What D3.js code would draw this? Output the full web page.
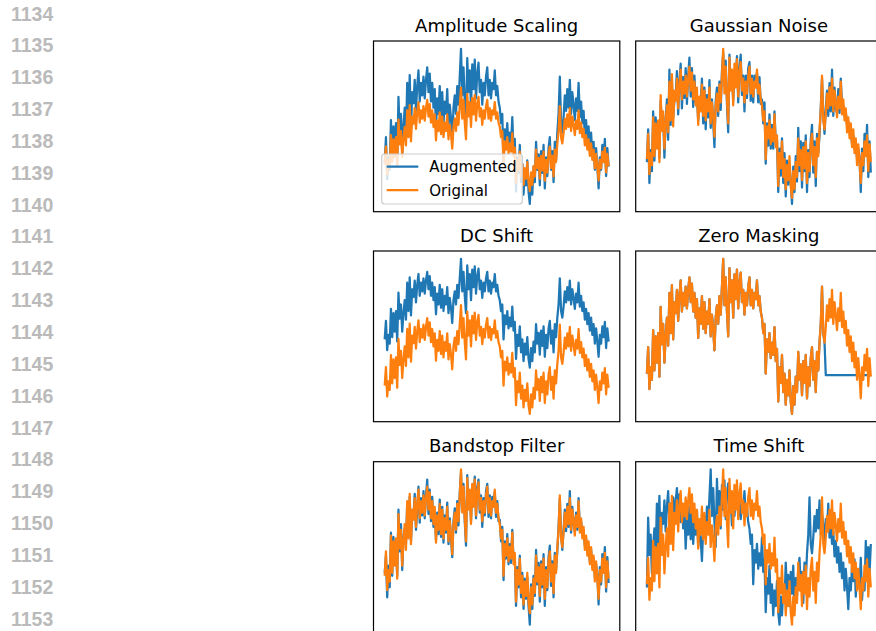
<!DOCTYPE html>
<html>
<head>
<meta charset="utf-8">
<script src="https://cdn.jsdelivr.net/npm/d3@7"></script>
<style>
  html, body { margin: 0; padding: 0; background: #fff; }
  svg { display: block; }
</style>
</head>
<body>
<svg id="fig" width="876" height="631"></svg>
<script>
// Manuscript line numbers in the margin
const lineNumbers = [1134, 1135, 1136, 1137, 1138, 1139, 1140, 1141, 1142, 1143,
                     1144, 1145, 1146, 1147, 1148, 1149, 1150, 1151, 1152, 1153];

const panelTitles = ["Amplitude Scaling", "Gaussian Noise", "DC Shift",
                     "Zero Masking", "Bandstop Filter", "Time Shift"];
const legendLabels = ["Augmented", "Original"];

// Original signal (one sample per entry)
const original = [
   1, 18, -9,  5, -3, 29,  3, 25,  8, 27,
  -1, 44, 20, 33,  8, 25, 37, 19, 53, 27,
  58, 23, 47, 40, 55, 35, 51, 61, 41, 53,
  45, 57, 43, 55, 63, 47, 59, 41, 53, 37,
  49, 24, 43, 33, 51, 30, 47, 27, 41, 33,
  49, 25, 39, 30, 16, 37, 45, 33, 51, 39,
  57, 75, 45, 63, 41, 25, 69, 47, 61, 37,
  65, 49, 68, 43, 59, 66, 47, 55, 39, 53,
  45, 57, 63, 45, 55, 43, 53, 49, 61, 45,
  51, 41, 37, 27, 33,  1, 23, 15, 27, 11,
  21, 13, 31,  9, 17, -17, 5, -5, 13, -11,
   1, -19, -3, -13, 3, -17, -25, -7, -19, -1,
 -11, 15, -3,  7, -13, 9, -5, 13, -15, 5,
  -7, 11, 18, -3,  9, -11, 15, 3, 21, 33,
  57, 27, 21, 31, 45, 35, 49, 37, 55, 33,
  47, 39, 29, 43, 35, 53, 31, 41, 27, 35,
  19, 29, 15, 25,  9, 21,  5, 15, -3, 11,
  -1, -15, 5, -3, 13,  3, 17, -7, 11, -1
];

// Additive noise sample-by-sample for the Gaussian Noise view
const gaussianNoise = [
  -2, 3, -6, 2, -4, 4, -3, 4, 2, -5,
   3, -4, 5, -3, -6, 2, 4, -5, 8, -3,
  -4, 6, -7, 3, 5, -4, 2, 4, -6, 3,
  -3, 5, -5, 2, 6, -4, 3, -5, 4, 2,
  -6, 3, -3, 5, 4, -5, 2, -6, 3, -4,
   5, -3, 2, -4, -7, 3, 4, -3, 2, -5,
   3, -3, 5, 4, -3, -6, 2, 4, -4, 3,
  -5, 4, 2, -4, 3, 5, -3, 2, -6, 4,
  -3, 5, 3, -5, 2, -4, 4, 3, -2, -6,
   5, -3, 4, -2, 6, -3, 2, -5, 4, -3,
   3, -5, 2, 4, -3, -4, 3, -5, 2, -4,
   4, -5, 3, -3, -6, 2, -4, 3, -2, 4,
  -3, 7, -4, 6, -5, 3, -2, 4, -6, 2,
  -4, 3, 6, -5, 4, -6, 3, 2, -4, 3,
  -2, 5, -3, 4, 2, -5, 3, -4, 6, -3,
   2, -4, 3, 5, -3, 2, 6, -4, 3, -2,
   5, -3, 4, -5, 2, -4, 3, -2, 4, -3,
   2, -6, 3, -4, 5, 3, 7, -4, 2, -7
];

// Difference between the band-stopped signal and the original
const bandstopDelta = [
   2, -3, -5, 3, -4, 2, -2, 3, 1, -4,
   2, 3, -2, 4, -3, 2, -3, 4, -2, 3,
  -2, 2, -3, 2, 3, -2, -4, 2, -3, 2,
  -2, 3, -2, 2, 5, -3, 2, -2, 3, -2,
  -3, 2, 2, -3, 3, -2, 2, -3, 2, -2,
   3, -2, 2, -3, -2, 2, 3, -2, 2, -3,
   2, -2, 3, 2, -2, -3, 2, 3, -2, 2,
  -3, 2, 2, -2, 3, 2, -2, 2, -4, 2,
  -2, 3, 2, -3, 2, -2, 3, 2, -2, -3,
   2, -2, 3, -2, 2, -3, 2, -2, 3, -2,
   2, -3, 2, 3, -2, -3, 2, -2, 2, -3,
   2, -3, 2, -2, -3, -3, -8, 2, -3, 2,
  -2, 4, -2, 3, -4, 2, -2, 3, -5, 2,
  -2, 3, 4, -3, 2, -3, 2, 2, -3, 2,
  -2, 3, -2, 2, 2, -3, 2, -2, 5, -2,
   2, -2, 3, 2, -2, 2, 3, -2, 2, -2,
   3, -2, 2, -3, 2, -2, 2, -2, 3, -2,
   2, -4, 2, -2, 3, 2, 4, -3, 3, -3
];

// Augmentation parameters
const amplitudeFactor = 1.5;
const dcOffset = 42.5;
const maskStart = 143;
const shiftSamples = 10;

const N = original.length;
const augmentations = [
  original.map(v => v * amplitudeFactor),
  original.map((v, i) => v + gaussianNoise[i]),
  original.map(v => v + dcOffset),
  original.map((v, i) => (i >= maskStart ? 0 : v)),
  original.map((v, i) => v + bandstopDelta[i]),
  original.map((v, i) => original[(i + shiftSamples) % N])
];

// Figure layout
const colX = [373.5, 635.7];
const rowY = [41, 251, 461.7];
const axW = 246.3, axH = 170.7;
const BLUE = "#1f77b4", ORANGE = "#ff7f0e";

const svg = d3.select("#fig");

// Margin line numbers
svg.append("g")
  .selectAll("text")
  .data(lineNumbers)
  .join("text")
  .attr("x", 11)
  .attr("y", (d, i) => 20.5 + i * 31.85)
  .attr("font-family", "'Liberation Sans', Arial, sans-serif")
  .attr("font-weight", "bold")
  .attr("font-size", 19.5)
  .attr("fill", "#bababa")
  .text(d => d);

const defs = svg.append("defs");

panelTitles.forEach((title, k) => {
  const x0 = colX[k % 2], y0 = rowY[Math.floor(k / 2)];
  const aug = augmentations[k];

  // matplotlib-style 5% data margins
  const xPad = (N - 1) * 0.05;
  const x = d3.scaleLinear().domain([-xPad, N - 1 + xPad]).range([x0, x0 + axW]);
  const [lo, hi] = d3.extent(original.concat(aug));
  const yPad = (hi - lo) * 0.05;
  const y = d3.scaleLinear().domain([lo - yPad, hi + yPad]).range([y0 + axH, y0]);

  defs.append("clipPath").attr("id", "clip" + k)
    .append("rect").attr("x", x0).attr("y", y0).attr("width", axW).attr("height", axH);

  const g = svg.append("g");
  const plot = g.append("g").attr("clip-path", `url(#clip${k})`);

  const line = d3.line().x((d, i) => x(i)).y(d => y(d));

  plot.append("path").datum(aug)
    .attr("d", line).attr("fill", "none")
    .attr("stroke", BLUE).attr("stroke-width", 2.25)
    .attr("stroke-linejoin", "round");
  plot.append("path").datum(original)
    .attr("d", line).attr("fill", "none")
    .attr("stroke", ORANGE).attr("stroke-width", 2.25)
    .attr("stroke-linejoin", "round");

  // axes frame (no ticks)
  g.append("rect")
    .attr("x", x0).attr("y", y0).attr("width", axW).attr("height", axH)
    .attr("fill", "none").attr("stroke", "#000").attr("stroke-width", 1.2);

  g.append("text")
    .attr("x", x0 + axW / 2).attr("y", y0 - 9.3)
    .attr("text-anchor", "middle")
    .attr("font-family", "'DejaVu Sans', sans-serif")
    .attr("font-size", 18)
    .attr("fill", "#000")
    .text(title);

  if (k === 0) {
    const lg = g.append("g");
    lg.append("rect")
      .attr("x", 381.7).attr("y", 154).attr("width", 140.6).attr("height", 50)
      .attr("rx", 3).attr("ry", 3)
      .attr("fill", "#fff").attr("fill-opacity", 0.8)
      .attr("stroke", "#cccccc").attr("stroke-width", 1.2);
    [BLUE, ORANGE].forEach((c, j) => {
      const ly = 166.7 + j * 23.3;
      lg.append("line")
        .attr("x1", 386.7).attr("x2", 418.3).attr("y1", ly).attr("y2", ly)
        .attr("stroke", c).attr("stroke-width", 2.25);
      lg.append("text")
        .attr("x", 429.3).attr("y", ly + 5.5)
        .attr("font-family", "'DejaVu Sans', sans-serif")
        .attr("font-size", 15)
        .attr("fill", "#000")
        .text(legendLabels[j]);
    });
  }
});
</script>
</body>
</html>
